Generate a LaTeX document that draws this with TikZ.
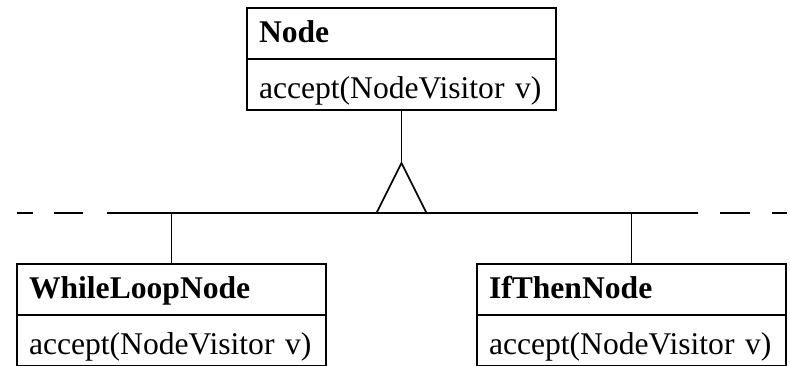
\documentclass[tikz,border=0pt]{standalone}
\usepackage{fontspec}
\setmainfont{Liberation Serif}
\usetikzlibrary{positioning}
\tikzset{
  clshead/.style={
    draw,
    line width=1.7pt,
    outer sep=0pt,
    anchor=north west,
    text width=285pt,
    inner xsep=12pt,
    inner ysep=0pt,
    text height=34pt,
    text depth=17pt,
    align=left,
    font=\fontsize{31.6}{36}\selectfont\bfseries
  },
  clsbody/.style={
    clshead,
    text height=39pt,
    text depth=12pt,
    font=\fontsize{31.6}{36}\selectfont
  },
  uml/.style={
    line width=1.7pt
  },
  umldash/.style={
    uml,
    dash pattern=on 16pt off 21pt on 29pt off 24pt
  },
}
\begin{document}
\begin{tikzpicture}[x=1pt,y=-1pt]
\useasboundingbox (0,0) rectangle (790,365);
\clip (0,0) rectangle (790,365);
\node[clshead] (nodeHead) at (247,8) {Node};
\node[clsbody, below=0pt of nodeHead] (nodeBody) {accept(NodeVisitor v)};
\coordinate[below=53pt of nodeBody] (apex);
\coordinate (busL) at (107,213);
\coordinate (busR) at (698,213);
\coordinate (dashL) at (17,213);
\coordinate (dashR) at (787,213);
\draw[uml] (nodeBody.south) -- (apex);
\draw[uml] (apex) -- ++(-25,50) -- ++(50,0) -- cycle;
\draw[uml] (busL) -- (busR);
\draw[umldash] (dashL) -- (busL);
\draw[umldash, dash pattern=on 15pt off 22pt on 30pt off 22pt] (dashR) -- (busR);
		  \foreach \nm/\x/\title in {while/17/WhileLoopNode,ifthen/477/IfThenNode}{
		    \node[clshead] (\nm Head) at (\x,264) {\title};
		    \node[clsbody, below=0pt of \nm Head] (\nm Body) {accept(NodeVisitor v)};
		     \draw[uml] (\nm Head.north) -- (\nm Head.north |- busL); }
\end{tikzpicture}
\end{document}
